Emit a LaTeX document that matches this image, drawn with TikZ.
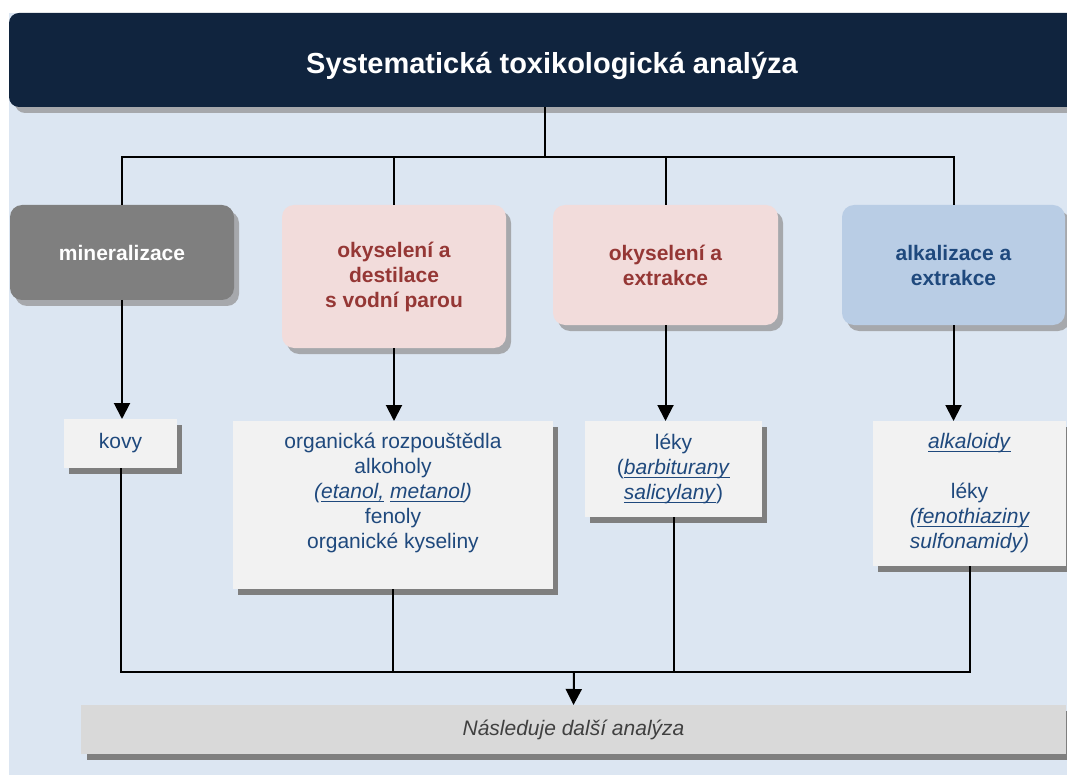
\documentclass[tikz,border=0pt]{standalone}
\usepackage{fontspec}
\setmainfont{Liberation Sans}
\usetikzlibrary{arrows.meta,shadows}
\definecolor{panel}{HTML}{DCE6F2}
\definecolor{headbg}{HTML}{10243E}
\definecolor{softshadow}{HTML}{A6A8AC}
\definecolor{hardshadow}{HTML}{7F7F7F}
\definecolor{graybox}{HTML}{7F7F7F}
\definecolor{pinkbox}{HTML}{F2DCDB}
\definecolor{bluebox}{HTML}{B9CDE5}
\definecolor{redtext}{HTML}{953735}
\definecolor{bluetext}{HTML}{1F497D}
\definecolor{resfill}{HTML}{F2F2F2}
\definecolor{botfill}{HTML}{D9D9D9}
\definecolor{bottext}{HTML}{404040}
\newcommand\uln[1]{\setbox0\hbox{#1}\rlap{\rule[-3.5pt]{\wd0}{1.4pt}}\box0\relax}
\begin{document}
\begin{tikzpicture}[x=1pt,y=-1pt,
  every node/.style={inner sep=0pt,outer sep=0pt},
  header/.style={fill=headbg,rounded corners=10pt,
    drop shadow={fill=softshadow,opacity=1,shadow xshift=6pt,shadow yshift=-6pt}},
  titletext/.style={text=white,font=\fontsize{29}{34}\selectfont\bfseries},
  method/.style={rounded corners=12pt,align=center,
    font=\fontsize{21}{25}\selectfont\bfseries,
    drop shadow={fill=softshadow,opacity=1,shadow xshift=5pt,shadow yshift=-6pt}},
  result/.style={fill=resfill,align=center,text=bluetext,
    font=\fontsize{21}{25}\selectfont,
    drop shadow={fill=hardshadow,opacity=1,shadow xshift=5pt,shadow yshift=-6pt}},
  restext/.style={align=center,text=bluetext,font=\fontsize{21}{25}\selectfont},
  final/.style={fill=botfill,text=bottext,font=\fontsize{21}{25}\selectfont\itshape,
    drop shadow={fill=hardshadow,opacity=1,shadow xshift=6pt,shadow yshift=-6pt}},
  conn/.style={line width=2pt,draw=black},
  arr/.style={conn,-{Triangle[width=16pt,length=16pt]}}
]
\useasboundingbox (0,0) rectangle (1067,775);
\clip (0,0) rectangle (1067,775);
\fill[panel] (9,13) rectangle (1067,775);

\node[header,minimum width=1086pt,minimum height=94pt] (head) at (552,60) {};
\node[titletext] (title) at (552,66) {Systematická toxikologická analýza};

\node[method,fill=graybox,text=white,minimum width=224pt,minimum height=95pt] (b1) at (122,252.5) {mineralizace};
\node[method,fill=pinkbox,text=redtext,minimum width=224pt,minimum height=143pt] (b2) at (394,276.5) {okyselení a\\destilace\\s vodní parou};
\node[method,fill=pinkbox,text=redtext,minimum width=225pt,minimum height=120pt] (b3) at (665.5,265) {okyselení a\\extrakce};
\node[method,fill=bluebox,text=bluetext,minimum width=223pt,minimum height=120pt] (b4) at (953.5,265) {alkalizace a\\extrakce};

\node[result,minimum width=113pt,minimum height=49pt] (r1) at (120.5,443.5) {kovy};
\node[result,minimum width=320pt,minimum height=168pt] (r2) at (393,505) {};
\node[restext] (r2t) at (393,493) {organická rozpouštědla\\alkoholy\\\textit{(\uln{etanol,} \uln{metanol})}\\fenoly\\organické kyseliny};
\node[result,minimum width=177pt,minimum height=96pt] (r3) at (673.5,469) {léky\\(\uln{\textit{barbiturany}}\\\uln{\textit{salicylany}})};
\node[result,minimum width=193pt,minimum height=145pt] (r4) at (969.5,493.5) {\uln{\textit{alkaloidy}}\\[25pt]léky\\\textit{(\uln{fenothiaziny}}\\\textit{sulfonamidy)}};

\node[final,minimum width=985pt,minimum height=49pt] (fin) at (573.5,729.5) {Následuje další analýza};

\coordinate (hj) at (545,157);
\coordinate (bj) at (574,672);

\draw[conn] (head.south -| hj) -- (hj);
\draw[conn] (b1.north) -- (b1.north |- hj) -- (b4.north |- hj) -- (b4.north);
\draw[conn] (b2.north) -- (b2.north |- hj);
\draw[conn] (b3.north) -- (b3.north |- hj);

\draw[arr] (b1.south) -- (b1.south |- r1.north);
\draw[arr] (b2.south) -- (b2.south |- r2.north);
\draw[arr] (b3.south) -- (b3.south |- r3.north);
\draw[arr] (b4.south) -- (b4.south |- r4.north);

\draw[conn] (r1.south) -- (r1.south |- bj) -- (r4.south |- bj) -- (r4.south);
\draw[conn] (r2.south) -- (r2.south |- bj);
\draw[conn] (r3.south) -- (r3.south |- bj);
\draw[arr] (bj) -- (fin.north);
\end{tikzpicture}
\end{document}
